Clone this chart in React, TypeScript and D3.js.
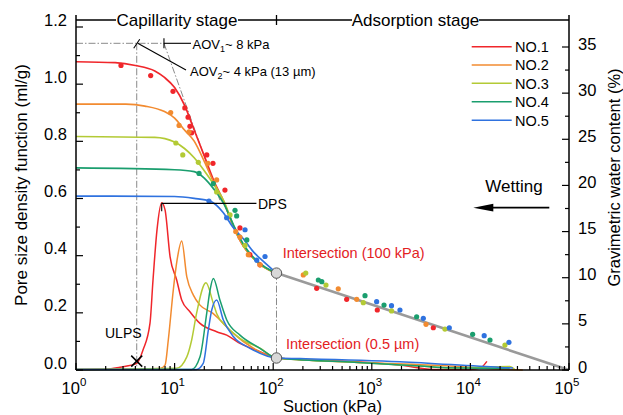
import React from "react";
import * as d3 from "d3";

const FONT = "'Liberation Sans', Arial, Helvetica, sans-serif";

const seriesNames = ["NO.1", "NO.2", "NO.3", "NO.4", "NO.5"];
const seriesColors = ["#f0262b", "#f28b30", "#b3ca35", "#1a9e6e", "#2f72df"];

// Fitted soil-water characteristic curves: [suction kPa, gravimetric water content %]
const swccFit1 = [[1, 33.4], [2.5, 33.3], [4, 33.0], [6.3, 32.4], [7.9, 31.7], [10, 30.6], [12.6, 28.7], [15.8, 26.0], [20, 23.2], [25, 20.5], [31.6, 18.2], [40, 15.4], [50, 13.4], [63, 12.1], [79, 11.2], [108, 10.5]];
const swccFit2 = [[1, 28.8], [3.2, 28.8], [5, 28.6], [7.9, 28.0], [10, 27.3], [12.6, 26.0], [15.8, 24.8], [20, 22.6], [25, 20.3], [31.6, 18.2], [40, 15.4], [50, 13.4], [63, 12.1], [79, 11.2], [108, 10.5]];
const swccFit3 = [[1, 25.3], [6.3, 25.2], [10, 24.7], [12.6, 24.0], [15.8, 23.0], [20, 21.6], [25, 20.1], [31.6, 18.3], [40, 15.5], [50, 13.5], [63, 12.1], [79, 11.2], [108, 10.5]];
const swccFit4 = [[1, 21.9], [10, 21.7], [15.8, 21.5], [20, 20.8], [25, 19.6], [31.6, 18.0], [40, 15.6], [50, 13.6], [63, 12.2], [79, 11.3], [108, 10.5]];
const swccFit5 = [[1, 18.85], [10, 18.8], [15.8, 18.6], [22.9, 18.3], [30.9, 17.1], [38.9, 15.5], [50, 14.2], [63, 12.8], [79, 11.8], [108, 10.5]];

// Measured wetting points: [suction kPa, gravimetric water content %]
const swccPts1 = [[2.86, 33.0], [5.72, 31.9], [9.63, 30.2], [12.7, 28.4], [13.7, 27.4], [14.3, 26.4], [14.9, 25.7], [21.2, 23.3], [24.5, 22.4], [32.4, 19.5], [46, 15.4], [58, 12.5], [73.5, 11.4], [276, 8.85], [556, 7.66], [1137, 6.5], [4207, 4.58]];
const swccPts2 = [[9.13, 27.9], [11.1, 26.5], [14.0, 25.8], [21.8, 22.4], [26.7, 20.6], [41.7, 15.0], [46, 14.4], [55.9, 12.5], [73.5, 11.4], [202, 10.3], [457, 8.8], [703, 7.66], [3548, 4.95]];
const swccPts3 = [[10.3, 24.6], [12.1, 23.3], [17.4, 22.5], [26.7, 19.3], [36.5, 16.8], [51.8, 13.5], [214, 10.5], [343, 9.2], [820, 7.3], [1585, 6.4], [5520, 4.44], [22400, 2.7]];
const swccPts4 = [[17.7, 21.3], [24.7, 20.2], [41, 17.3], [42.6, 16.7], [54, 14.1], [287, 9.75], [311, 9.57], [853, 8.05], [1330, 7.04], [2850, 5.77], [10540, 3.87], [15800, 3.25]];
const swccPts5 = [[22.3, 18.3], [33.7, 16.5], [51.8, 15.2], [68, 11.9], [82.6, 12.3], [1120, 7.4], [1585, 6.97], [1930, 6.5], [3330, 5.6], [6110, 4.58], [13800, 3.72], [24600, 3.0]];

// Pore size density function: [suction kPa, ml/g]
const psd1 = [[1, 0.002], [2.05, 0.003], [2.8, 0.01], [4.13, 0.023], [4.78, 0.07], [5.63, 0.164], [6.04, 0.315], [6.63, 0.49], [7.4, 0.585], [8.0, 0.56], [9.0, 0.396], [10.5, 0.315], [11.8, 0.245], [14.3, 0.204], [18.1, 0.163], [26.7, 0.134], [33.8, 0.122], [46, 0.093], [73.5, 0.064], [108, 0.042], [187, 0.037], [602, 0.03], [1930, 0.0175], [4170, 0.002], [9900, 0.002], [12600, 0.007], [14700, 0.03]];
const psd2 = [[1, 0.002], [7.1, 0.005], [8.0, 0.017], [8.63, 0.105], [9.7, 0.28], [10.6, 0.385], [11.8, 0.451], [13.3, 0.326], [15.5, 0.262], [18.1, 0.227], [24.5, 0.198], [31, 0.164], [39.1, 0.129], [62.4, 0.077], [108, 0.042], [602, 0.028], [6200, 0.014], [20000, 0.003], [34000, 0.0]];
const psd3 = [[1, 0.002], [10.5, 0.006], [13.3, 0.046], [14.9, 0.105], [16.7, 0.198], [20.8, 0.305], [24.7, 0.233], [26.7, 0.198], [33.8, 0.151], [46, 0.111], [73.5, 0.076], [108, 0.042], [602, 0.028], [3090, 0.014], [6200, 0.007], [25100, 0.012], [28000, 0.003]];
const psd4 = [[1, 0.002], [14.9, 0.002], [18.1, 0.046], [21.2, 0.2], [22.9, 0.28], [24.7, 0.32], [28.8, 0.245], [33.8, 0.175], [46, 0.122], [73.5, 0.076], [108, 0.042], [602, 0.028], [3090, 0.014], [6200, 0.008], [25100, 0.006]];
const psd5 = [[1, 0.002], [16.7, 0.002], [19.5, 0.023], [22, 0.14], [23.8, 0.21], [26.7, 0.245], [31.2, 0.175], [39.4, 0.117], [58.2, 0.076], [108, 0.042], [187, 0.04], [1930, 0.029], [20000, 0.009], [27000, 0.007]];

const swccFits = [swccFit1, swccFit2, swccFit3, swccFit4, swccFit5];
const swccPoints = [swccPts1, swccPts2, swccPts3, swccPts4, swccPts5];
const psdCurves = [psd1, psd2, psd3, psd4, psd5];

const suctionTicks = [1, 10, 100, 1000, 10000, 100000];
const suctionExponents = ["0", "1", "2", "3", "4", "5"];
const psdTicks = [0, 0.2, 0.4, 0.6, 0.8, 1.0, 1.2];
const psdTickLabels = ["0.0", "0.2", "0.4", "0.6", "0.8", "1.0", "1.2"];
const psdMinorTicks = [0.1, 0.3, 0.5, 0.7, 0.9, 1.1];
const wcTicks = [0, 5, 10, 15, 20, 25, 30, 35];
const wcMinorTicks = [2.5, 7.5, 12.5, 17.5, 22.5, 27.5, 32.5];

// Key points of the annotations
const intersectSuction = 108;
const intersectWC = 10.5;
const intersectPSD = 0.042;
const residualSuction = 100000;
const aov1Suction = 7.8;
const aov2Suction = 4.13;
const aovWC = 35.4;
const tangentEnd = [28.8, 18.4];
const dpsSuction = 7.4;
const dpsValue = 0.583;
const dpsLineEnd = 67.6;
const ulpsPSD = 0.031;

const X0 = 76, X1 = 569, Y0 = 370, YTOP = 15;

export default function App() {
  const x = d3.scaleLog().domain([1, 100000]).range([X0, X1]);
  const yL = d3.scaleLinear().domain([0, 1.2]).range([Y0, 27]);
  const yR = d3.scaleLinear().domain([0, 35]).range([Y0, 47]);

  const swccLine = d3.line<number[]>().x(d => x(d[0])).y(d => yR(d[1])).curve(d3.curveMonotoneX);
  const psdLine = d3.line<number[]>().x(d => x(d[0])).y(d => yL(d[1])).curve(d3.curveMonotoneX);

  const minorSuction: number[] = [];
  for (let e = 0; e < 5; e++) for (let k = 2; k <= 9; k++) minorSuction.push(k * Math.pow(10, e));

  const dashDot = "7,2,1.5,2";
  const legendY = [46.7, 65, 83.3, 101.7, 120.3];

  return (
    <svg width={623} height={415} style={{ position: "absolute", left: 0, top: 0, background: "#fff" }} fontFamily={FONT}>
      <rect width={623} height={415} fill="#fff" />

      {/* dash-dot guide lines */}
      <g stroke="#8a8a8a" strokeWidth={1} strokeDasharray={dashDot} fill="none">
        <line x1={X0} x2={x(aov1Suction)} y1={yR(aovWC)} y2={yR(aovWC)} />
        <line x1={x(aov2Suction)} x2={x(aov2Suction)} y1={yR(aovWC)} y2={Y0} />
        <line x1={x(aov1Suction)} y1={yR(aovWC)} x2={x(tangentEnd[0])} y2={yR(tangentEnd[1])} />
        <line x1={x(intersectSuction)} x2={x(intersectSuction)} y1={yR(intersectWC)} y2={yL(intersectPSD)} />
      </g>

      {/* pore size density curves */}
      {psdCurves.map((c, i) => (
        <path key={"psd" + i} d={psdLine(c) || ""} fill="none" stroke={seriesColors[i]} strokeWidth={1.5} />
      ))}

      {/* linear adsorption branch */}
      <line x1={x(intersectSuction)} y1={yR(intersectWC)} x2={x(residualSuction)} y2={yR(0)} stroke="#9a9a9a" strokeWidth={2.6} />

      {/* water retention fits and points */}
      {swccFits.map((c, i) => (
        <path key={"fit" + i} d={swccLine(c) || ""} fill="none" stroke={seriesColors[i]} strokeWidth={1.7} />
      ))}
      {swccPoints.map((pts, i) => pts.map((p, j) => (
        <circle key={"pt" + i + "-" + j} cx={x(p[0])} cy={yR(p[1])} r={2.6} fill={seriesColors[i]} />
      )))}

      {/* intersection markers */}
      <circle cx={x(intersectSuction)} cy={yR(intersectWC)} r={5.2} fill="#d8d8d8" stroke="#555" strokeWidth={1} />
      <circle cx={x(intersectSuction)} cy={yL(intersectPSD)} r={5.2} fill="#d8d8d8" stroke="#555" strokeWidth={1} />

      {/* axes */}
      <g stroke="#000" strokeWidth={1.5} fill="none">
        <line x1={X0} x2={X0} y1={YTOP} y2={Y0} />
        <line x1={X1} x2={X1} y1={YTOP} y2={Y0} />
        <line x1={X0} x2={X1} y1={Y0} y2={Y0} />
      </g>
      <g stroke="#000" strokeWidth={1.2}>
        {suctionTicks.map((t, i) => <line key={"xt" + i} x1={x(t)} x2={x(t)} y1={Y0} y2={Y0 - 7} />)}
        {minorSuction.map((t, i) => <line key={"xm" + i} x1={x(t)} x2={x(t)} y1={Y0} y2={Y0 - 4} />)}
        {psdTicks.map((t, i) => <line key={"yt" + i} x1={X0} x2={X0 + 7} y1={yL(t)} y2={yL(t)} />)}
        {psdMinorTicks.map((t, i) => <line key={"ym" + i} x1={X0} x2={X0 + 4} y1={yL(t)} y2={yL(t)} />)}
        {wcTicks.map((t, i) => <line key={"rt" + i} x1={X1} x2={X1 - 7} y1={yR(t)} y2={yR(t)} />)}
        {wcMinorTicks.map((t, i) => <line key={"rm" + i} x1={X1} x2={X1 - 4} y1={yR(t)} y2={yR(t)} />)}
      </g>

      {/* tick labels */}
      <g fontSize={16.5} fill="#000">
        {psdTicks.map((t, i) => (
          <text key={"yl" + i} x={67} y={yL(t) - 1.5} textAnchor="end">{psdTickLabels[i]}</text>
        ))}
        {wcTicks.map((t, i) => (
          <text key={"rl" + i} x={578} y={yR(t) + 2.5}>{t}</text>
        ))}
        {suctionTicks.map((t, i) => (
          <text key={"xl" + i} x={x(t) - 2} y={394} textAnchor="middle">
            10<tspan dy={-8} fontSize={11.5}>{suctionExponents[i]}</tspan>
          </text>
        ))}
      </g>

      {/* axis titles */}
      <text x={332.5} y={411.5} fontSize={16.5} textAnchor="middle">Suction (kPa)</text>
      <text transform="translate(27,185) rotate(-90)" fontSize={17} textAnchor="middle">Pore size density function (ml/g)</text>
      <text transform="translate(620,177.5) rotate(-90)" fontSize={16.5} textAnchor="middle">Gravimetric water content (%)</text>

      {/* stage bar */}
      <g stroke="#000" strokeWidth={1.3}>
        <line x1={X0} x2={116} y1={20} y2={20} />
        <line x1={238} x2={352} y1={20} y2={20} />
        <line x1={479} x2={X1} y1={20} y2={20} />
        <line x1={x(intersectSuction)} x2={x(intersectSuction)} y1={15} y2={25} />
      </g>
      <text x={177} y={25.5} fontSize={17} textAnchor="middle">Capillarity stage</text>
      <text x={415.5} y={25.5} fontSize={17} textAnchor="middle">Adsorption stage</text>

      {/* AOV annotations */}
      <g stroke="#000" strokeWidth={1.1}>
        <line x1={x(aov1Suction)} x2={191} y1={yR(aovWC)} y2={yR(aovWC)} />
        <line x1={x(aov1Suction)} x2={x(aov1Suction)} y1={yR(aovWC) - 5} y2={yR(aovWC) + 5} />
        <line x1={x(aov2Suction) + 1} y1={yR(aovWC)} x2={186} y2={70} />
        <line x1={x(aov2Suction) - 3} y1={yR(aovWC) + 5} x2={x(aov2Suction) + 3} y2={yR(aovWC) - 4} />
      </g>
      <text x={192.5} y={48.5} fontSize={13}>AOV<tspan dy={3} fontSize={9}>1</tspan><tspan dy={-3}>~ 8 kPa</tspan></text>
      <text x={190} y={75.5} fontSize={13}>AOV<tspan dy={3} fontSize={9}>2</tspan><tspan dy={-3}>~ 4 kPa (13 µm)</tspan></text>

      {/* DPS annotation */}
      <g stroke="#000" strokeWidth={1.1}>
        <line x1={x(dpsSuction)} x2={x(dpsLineEnd)} y1={yL(dpsValue)} y2={yL(dpsValue)} />
        <line x1={x(dpsSuction)} x2={x(dpsSuction)} y1={yL(dpsValue)} y2={yL(dpsValue) + 8} />
      </g>
      <text x={258} y={208.5} fontSize={14}>DPS</text>

      {/* ULPS annotation */}
      <g stroke="#000" strokeWidth={1.5}>
        <line x1={x(aov2Suction) - 5.5} x2={x(aov2Suction) + 5.5} y1={yL(ulpsPSD) - 5.5} y2={yL(ulpsPSD) + 5.5} />
        <line x1={x(aov2Suction) - 5.5} x2={x(aov2Suction) + 5.5} y1={yL(ulpsPSD) + 5.5} y2={yL(ulpsPSD) - 5.5} />
      </g>
      <text x={105} y={337.7} fontSize={14}>ULPS</text>

      {/* intersection labels */}
      <text x={282.7} y={257.7} fontSize={14.5} fill="#e3211f">Intersection (100 kPa)</text>
      <text x={286} y={348.5} fontSize={14.5} fill="#e3211f">Intersection (0.5 µm)</text>

      {/* wetting direction */}
      <text x={514} y={192} fontSize={17} textAnchor="middle">Wetting</text>
      <line x1={549.3} x2={490} y1={207.7} y2={207.7} stroke="#000" strokeWidth={1.8} />
      <path d="M473.3,207.7 L493.3,203.8 L493.3,211.6 Z" fill="#000" />

      {/* legend */}
      {seriesNames.map((n, i) => (
        <g key={"lg" + i}>
          <line x1={471.7} x2={511.7} y1={legendY[i]} y2={legendY[i]} stroke={seriesColors[i]} strokeWidth={1.5} />
          <text x={515} y={legendY[i] + 5.2} fontSize={14.5}>{n}</text>
        </g>
      ))}
    </svg>
  );
}
